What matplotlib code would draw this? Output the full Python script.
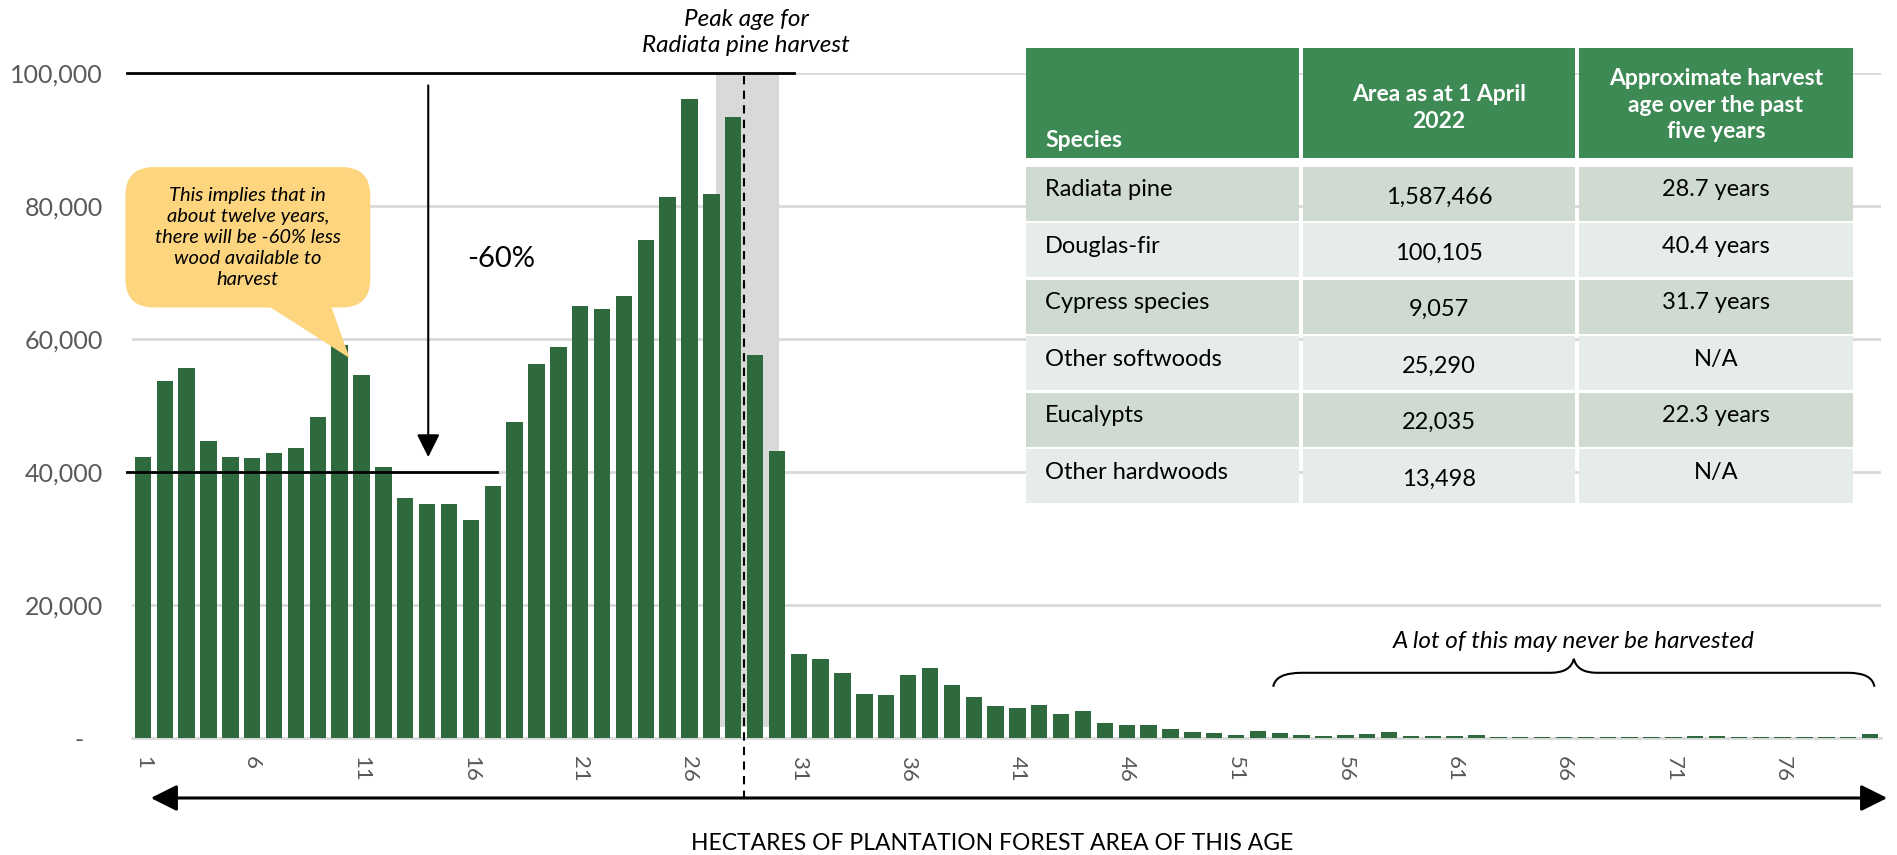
import matplotlib
matplotlib.use("Agg")
import matplotlib.pyplot as plt
from matplotlib.patches import FancyBboxPatch, Polygon, Rectangle, PathPatch
from matplotlib.path import Path

plt.rcParams['font.family'] = ['Lato', 'DejaVu Sans']

# hectares of plantation forest by age (years 1..80)
ages = list(range(1, 81))
area = [42200, 53600, 55600, 44600, 42200, 42100, 42900, 43600, 48200, 59000,
        54500, 40700, 36100, 35100, 35100, 32800, 37800, 47500, 56200, 58800,
        64900, 64400, 66500, 74800, 81300, 96000, 81700, 93300, 57600, 43200,
        12600, 11800, 9700, 6600, 6400, 9400, 10500, 8000, 6200, 4800,
        4500, 5000, 3600, 4100, 2200, 1900, 2000, 1400, 900, 750,
        500, 1050, 750, 400, 300, 400, 600, 900, 250, 250,
        250, 500, 120, 120, 120, 120, 120, 120, 120, 120,
        120, 350, 350, 120, 120, 120, 120, 120, 120, 550]

yticks = [0, 20000, 40000, 60000, 80000, 100000]
ytick_labels = ['-   ', '20,000', '40,000', '60,000', '80,000', '100,000']
xticks = list(range(1, 80, 5))

species = ['Radiata pine', 'Douglas-fir', 'Cypress species', 'Other softwoods',
           'Eucalypts', 'Other hardwoods']
area_2022 = ['1,587,466', '100,105', '9,057', '25,290', '22,035', '13,498']
harvest_age = ['28.7 years', '40.4 years', '31.7 years', 'N/A', '22.3 years', 'N/A']
headers = ['Species', 'Area as at 1 April\n2022',
           'Approximate harvest\nage over the past\nfive years']

W, H = 1897, 855
fig = plt.figure(figsize=(W / 100, H / 100), dpi=100)
ax = fig.add_axes([132 / W, 117 / H, (1881 - 132) / W, (738 - 72.6) / H])

grey = '#595959'
ax.bar(ages, area, width=0.75, color='#2F6A3F', zorder=3)
ax.set_xlim(0.5, 80.5)
ax.set_ylim(0, 100000)
for y in yticks[1:]:
    ax.axhline(y, color='#D9D9D9', lw=2, zorder=0)
for s in ['top', 'right', 'left']:
    ax.spines[s].set_visible(False)
ax.spines['bottom'].set_color('#D9D9D9')
ax.spines['bottom'].set_linewidth(2)
ax.set_yticks(yticks)
ax.set_yticklabels(ytick_labels)
ax.set_xticks(xticks)
ax.set_xticklabels([str(x) for x in xticks], rotation=-90)
ax.tick_params(axis='y', length=0, pad=21, labelsize=18, labelcolor=grey)
ax.tick_params(axis='x', length=0, pad=13, labelsize=16, labelcolor=grey)

# peak harvest age shading + dashed marker
ax.add_patch(Rectangle((27.2, 1700), 2.9, 98300, color='#D9D9D9', zorder=1, lw=0))
ax.plot([28.5, 28.5], [99500, -9000], color='black', lw=1.5,
        ls=(0, (4, 3)), clip_on=False, zorder=4)
ax.text(28.6, 106000, 'Peak age for\nRadiata pine harvest', ha='center', va='center',
        style='italic', fontsize=17.5, linespacing=1.3)

# -60% annotation
ax.plot([0.25, 30.8], [100000, 100000], color='black', lw=2, clip_on=False, zorder=4)
ax.plot([0.25, 17.2], [40000, 40000], color='black', lw=2, clip_on=False, zorder=4)
ax.annotate('', xy=(14.05, 41800), xytext=(14.05, 98500),
            arrowprops=dict(arrowstyle='-|>,head_length=0.7,head_width=0.35',
                            lw=1.5, color='black', mutation_scale=20))
ax.text(17.4, 72000, '-60%', ha='center', va='center', fontsize=21)

# callout
yellow = '#FDD57E'
box = FancyBboxPatch((0.2, 64700), 11.2, 21100,
                     boxstyle='round,pad=0,rounding_size=1.3',
                     mutation_aspect=3288, fc=yellow, ec='none',
                     clip_on=False, zorder=5)
ax.add_patch(box)
ax.add_patch(Polygon([(6.7, 65000), (9.6, 65000), (10.45, 57100)], closed=True,
                     fc=yellow, ec='none', clip_on=False, zorder=5))
ax.text(5.8, 75200, 'This implies that in\nabout twelve years,\nthere will be -60% less\n'
        'wood available to\nharvest', ha='center', va='center', style='italic',
        fontsize=14.5, linespacing=1.28, zorder=6)

# brace over the long tail
verts = [(52.7, 7700), (52.8, 9800), (54.0, 9800), (65.4, 9800),
         (66.3, 9800), (66.45, 11900), (66.6, 9800), (67.5, 9800),
         (79.0, 9800), (80.1, 9800), (80.2, 7700)]
codes = [Path.MOVETO, Path.CURVE3, Path.CURVE3, Path.LINETO,
         Path.CURVE3, Path.CURVE3, Path.CURVE3, Path.CURVE3,
         Path.LINETO, Path.CURVE3, Path.CURVE3]
ax.add_patch(PathPatch(Path(verts, codes), fc='none', ec='black', lw=1.5,
                       clip_on=False, zorder=4))
ax.text(66.45, 14500, 'A lot of this may never be harvested', ha='center',
        va='center', style='italic', fontsize=17.5)

# axis arrow and label
fig.patches.append(matplotlib.patches.FancyArrowPatch(
    (148 / W, 57 / H), (1890 / W, 57 / H), transform=fig.transFigure,
    arrowstyle='<|-|>,head_length=0.8,head_width=0.4', mutation_scale=20,
    lw=2.2, color='black'))
fig.text(992 / W, 12 / H, 'HECTARES OF PLANTATION FOREST AREA OF THIS AGE',
         ha='center', va='center', fontsize=16.5)

# species table
tax = fig.add_axes([0, 0, 1, 1], zorder=10)
tax.set_xlim(0, W)
tax.set_ylim(H, 0)
tax.axis('off')
cols = [(1026, 1299), (1303, 1575), (1579, 1853)]
head_green = '#3E8A55'
row_colors = ['#CFDBD1', '#E6ECE7']
for x0, x1 in cols:
    tax.add_patch(Rectangle((x0, 48), x1 - x0, 110.5, color=head_green, lw=0))
tax.text(1045, 147, headers[0], color='white', fontweight='bold', fontsize=16.5,
         ha='left', va='baseline')
tax.text(1439, 108, headers[1], color='white', fontweight='bold', fontsize=16.5,
         ha='center', va='center', linespacing=1.3)
tax.text(1716, 105, headers[2], color='white', fontweight='bold', fontsize=16.5,
         ha='center', va='center', linespacing=1.32)
for i in range(len(species)):
    top = 167 + 56.4 * i
    for x0, x1 in cols:
        tax.add_patch(Rectangle((x0, top), x1 - x0, 54, color=row_colors[i % 2], lw=0))
    tax.text(1045, top + 23, species[i], ha='left', va='center', fontsize=17)
    tax.text(1439, top + 30, area_2022[i], ha='center', va='center', fontsize=17)
    tax.text(1716, top + 23, harvest_age[i], ha='center', va='center', fontsize=17)

fig.savefig('out.png', dpi=100)
